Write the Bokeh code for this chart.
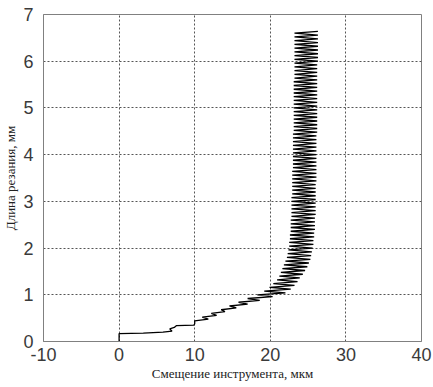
from bokeh.plotting import figure
from bokeh.models import Range1d, FixedTicker
from bokeh.embed import file_html
from bokeh.resources import INLINE

# Initial entry path (x in um, y in mm)
start_x = [0.0, 0.0, 3.2, 5.8, 7.0, 6.7, 7.3, 7.6, 9.9, 10.0]
start_y = [0.0, 0.17, 0.18, 0.20, 0.22, 0.27, 0.30, 0.34, 0.35, 0.38]

# Zigzag turning points: left edge and right edge per cycle
left_y = [0.44, 0.52, 0.60, 0.68, 0.76, 0.84, 0.92, 1.00, 1.08, 1.16,
          1.24, 1.32, 1.40, 1.48, 1.56, 1.64, 1.72, 1.80, 1.88, 1.96,
          2.04, 2.12, 2.20, 2.28, 2.36, 2.44, 2.52, 2.60, 2.68, 2.76,
          2.84, 2.92, 3.00, 3.08, 3.16, 3.24, 3.32, 3.40, 3.48, 3.56,
          3.64, 3.72, 3.80, 3.88, 3.96, 4.04, 4.12, 4.20, 4.28, 4.36,
          4.44, 4.52, 4.60, 4.68, 4.76, 4.84, 4.92, 5.00, 5.08, 5.16,
          5.24, 5.32, 5.40, 5.48, 5.56, 5.64, 5.72, 5.80, 5.88, 5.96,
          6.04, 6.12, 6.20, 6.28, 6.36, 6.44, 6.52, 6.60]
left_x = [10.0, 11.0, 12.2, 13.5, 14.6, 15.8, 17.0, 18.3, 19.2, 19.9,
          20.4, 20.9, 21.2, 21.4, 21.6, 21.8, 22.0, 22.2, 22.3, 22.4,
          22.5, 22.5, 22.6, 22.6, 22.7, 22.7, 22.7, 22.7, 22.8, 22.8,
          22.8, 22.8, 22.8, 22.8, 22.9, 22.9, 22.9, 22.9, 22.9, 22.9,
          22.9, 23.0, 23.0, 23.0, 23.0, 23.0, 23.0, 23.0, 23.0, 23.0,
          23.0, 23.1, 23.1, 23.1, 23.1, 23.1, 23.1, 23.1, 23.1, 23.1,
          23.1, 23.1, 23.1, 23.1, 23.1, 23.2, 23.2, 23.2, 23.2, 23.2,
          23.2, 23.2, 23.2, 23.2, 23.2, 23.2, 23.2, 23.2]
right_y = [0.48, 0.56, 0.64, 0.72, 0.80, 0.88, 0.96, 1.04, 1.12, 1.20,
           1.28, 1.36, 1.44, 1.52, 1.60, 1.68, 1.76, 1.84, 1.92, 2.00,
           2.08, 2.16, 2.24, 2.32, 2.40, 2.48, 2.56, 2.64, 2.72, 2.80,
           2.88, 2.96, 3.04, 3.12, 3.20, 3.28, 3.36, 3.44, 3.52, 3.60,
           3.68, 3.76, 3.84, 3.92, 4.00, 4.08, 4.16, 4.24, 4.32, 4.40,
           4.48, 4.56, 4.64, 4.72, 4.80, 4.88, 4.96, 5.04, 5.12, 5.20,
           5.28, 5.36, 5.44, 5.52, 5.60, 5.68, 5.76, 5.84, 5.92, 6.00,
           6.08, 6.16, 6.24, 6.32, 6.40, 6.48, 6.56, 6.64]
right_x = [11.8, 12.9, 14.0, 15.5, 17.0, 18.6, 20.3, 22.0, 22.7, 23.2,
           23.6, 23.9, 24.3, 24.6, 24.9, 25.1, 25.3, 25.4, 25.5, 25.6,
           25.7, 25.7, 25.8, 25.8, 25.9, 25.9, 25.9, 25.9, 26.0, 26.0,
           26.0, 26.0, 26.0, 26.0, 26.0, 26.0, 26.0, 26.1, 26.1, 26.1,
           26.1, 26.1, 26.1, 26.1, 26.1, 26.1, 26.1, 26.1, 26.1, 26.1,
           26.2, 26.2, 26.2, 26.2, 26.2, 26.2, 26.2, 26.2, 26.2, 26.2,
           26.2, 26.2, 26.2, 26.2, 26.2, 26.2, 26.2, 26.2, 26.2, 26.3,
           26.3, 26.3, 26.3, 26.3, 26.3, 26.3, 26.3, 26.3]

x_ticks = [-10, 0, 10, 20, 30, 40]
y_ticks = [0, 1, 2, 3, 4, 5, 6, 7]

xs = list(start_x)
ys = list(start_y)
for lx, ly, rx, ry in zip(left_x, left_y, right_x, right_y):
    xs += [lx, rx]
    ys += [ly, ry]

p = figure(width=433, height=387, output_backend="svg", toolbar_location=None,
           x_range=Range1d(-10, 40), y_range=Range1d(0, 7),
           min_border_left=38, min_border_right=12, min_border_top=14,
           min_border_bottom=46)
p.background_fill_color = "white"
p.border_fill_color = "white"
p.outline_line_color = "#808080"
p.outline_line_width = 1

p.line(xs, ys, line_color="black", line_width=1.3)

for ax in (p.xaxis[0], p.yaxis[0]):
    ax.axis_line_color = "#808080"
    ax.major_tick_line_color = None
    ax.minor_tick_line_color = None
    ax.major_label_text_font = "Liberation Sans"
    ax.major_label_text_font_size = "18px"
    ax.major_label_text_color = "#3a3a3a"
    ax.axis_label_text_font = "Liberation Serif"
    ax.axis_label_text_font_size = "13px"
    ax.axis_label_text_font_style = "normal"
    ax.axis_label_text_color = "#222222"

p.xaxis[0].ticker = FixedTicker(ticks=x_ticks)
p.yaxis[0].ticker = FixedTicker(ticks=y_ticks)
p.xaxis[0].major_label_overrides = {-10: "-10"}
p.xaxis[0].axis_label = "Смещение инструмента, мкм"
p.yaxis[0].axis_label = "Длина резания, мм"
p.xaxis[0].major_label_standoff = 0
p.yaxis[0].major_label_standoff = 4
p.xaxis[0].axis_label_standoff = 2
p.yaxis[0].axis_label_standoff = 2

for g in (p.xgrid[0], p.ygrid[0]):
    g.grid_line_color = "#555555"
    g.grid_line_dash = "2 2"
    g.grid_line_width = 1

open("out.html", "w").write(file_html(p, INLINE))
